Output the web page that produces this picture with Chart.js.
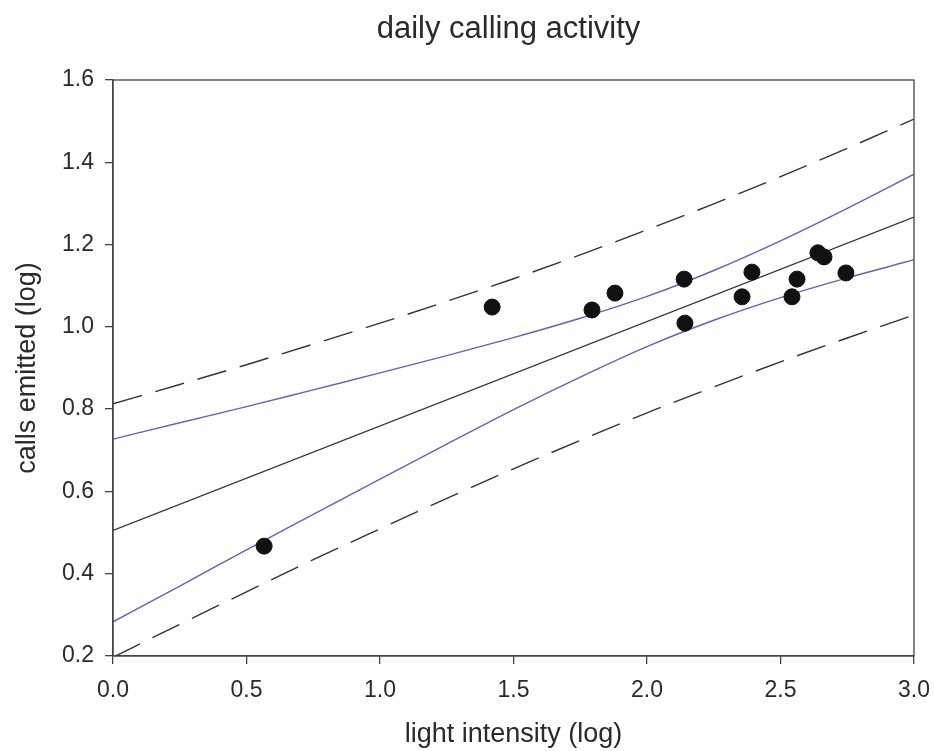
<!DOCTYPE html>
<html>
<head>
<meta charset="utf-8">
<script src="https://cdn.jsdelivr.net/npm/chart.js@4"></script>
<style>
html,body{margin:0;padding:0;background:#fff;}
#wrap{width:934px;height:751px;position:relative;}
</style>
</head>
<body>
<div id="wrap"><canvas id="c" width="934" height="751"></canvas></div>
<script>
// observed points
const pointX = [0.566, 1.42, 1.794, 1.88, 2.139, 2.142, 2.356, 2.393, 2.543, 2.562, 2.64, 2.663, 2.745];
const pointY = [0.467, 1.048, 1.041, 1.082, 1.116, 1.009, 1.073, 1.133, 1.073, 1.116, 1.180, 1.170, 1.131];
// regression line
const fitX = [0, 3];
const fitY = [0.505, 1.267];
// confidence / prediction bands
const bandX   = [0, 0.25, 0.5, 0.75, 1.0, 1.25, 1.5, 1.75, 2.0, 2.25, 2.5, 2.75, 3.0];
const ciUpper = [0.727, 0.767, 0.806, 0.847, 0.888, 0.930, 0.974, 1.021, 1.074, 1.137, 1.209, 1.288, 1.371];
const ciLower = [0.283, 0.370, 0.458, 0.544, 0.630, 0.715, 0.799, 0.878, 0.952, 1.016, 1.071, 1.119, 1.163];
const piUpper = [0.813, 0.860, 0.908, 0.958, 1.009, 1.062, 1.117, 1.175, 1.236, 1.299, 1.365, 1.434, 1.505];
const piLower = [0.197, 0.277, 0.356, 0.434, 0.509, 0.583, 0.655, 0.724, 0.791, 0.854, 0.915, 0.973, 1.029];
const xTicks = [0, 0.5, 1.0, 1.5, 2.0, 2.5, 3.0];
const yTicks = [0.2, 0.4, 0.6, 0.8, 1.0, 1.2, 1.4, 1.6];
const chartTitle = 'daily calling activity';

const zip = (xs, ys) => xs.map((x, i) => ({x: x, y: ys[i]}));
const FONT = "'Liberation Sans', Arial, sans-serif";
const TXT = '#2a2a2a';
const PURPLE = '#6a5fb4';

const frame = {
  id: 'frame',
  afterDatasetsDraw(chart) {
    const a = chart.chartArea, ctx = chart.ctx;
    ctx.save();
    ctx.strokeStyle = '#444';
    ctx.lineWidth = 1.3;
    ctx.strokeRect(a.left, a.top, a.right - a.left, a.bottom - a.top);
    ctx.fillStyle = TXT;
    ctx.font = '31px ' + FONT;
    ctx.textAlign = 'center';
    ctx.textBaseline = 'middle';
    ctx.fillText(chartTitle, (a.left + a.right) / 2 - 5, 29);
    ctx.restore();
  }
};

const lineDs = (label, xs, ys, color, dash, width) => ({
  type: 'line', label: label, data: zip(xs, ys),
  borderColor: color, borderWidth: width, borderDash: dash,
  pointRadius: 0, fill: false, tension: 0.4, cubicInterpolationMode: 'monotone',
  showLine: true, order: 2
});

new Chart(document.getElementById('c'), {
  type: 'scatter',
  data: {
    datasets: [
      lineDs('prediction upper', bandX, piUpper, '#333', [30, 14], 1.4),
      lineDs('prediction lower', bandX, piLower, '#333', [30, 14], 1.4),
      lineDs('confidence upper', bandX, ciUpper, PURPLE, [], 1.4),
      lineDs('confidence lower', bandX, ciLower, PURPLE, [], 1.4),
      lineDs('regression', fitX, fitY, '#333', [], 1.3),
      {
        type: 'scatter', label: 'calls', data: zip(pointX, pointY),
        backgroundColor: '#111', borderColor: '#111', pointRadius: 8, order: 1
      }
    ]
  },
  plugins: [frame],
  options: {
    responsive: false,
    animation: false,
    layout: {padding: {left: 0, right: 20, top: 80, bottom: 0}},
    plugins: {
      legend: {display: false},
      tooltip: {enabled: false},
      title: {display: false}
    },
    scales: {
      x: {
        type: 'linear', min: 0, max: 3,
        afterFit: s => { s.height = 95; s.paddingLeft = 0; s.paddingRight = 0; },
        afterBuildTicks: s => { s.ticks = xTicks.map(v => ({value: v})); },
        ticks: {color: TXT, font: {family: FONT, size: 23}, padding: 13,
                callback: v => Number(v).toFixed(1), maxRotation: 0},
        grid: {display: true, drawOnChartArea: false, drawTicks: true, tickLength: 8, color: '#444', lineWidth: 1.3},
        border: {display: true, color: '#444', width: 1.3},
        title: {display: true, text: 'light intensity (log)', color: TXT,
                font: {family: FONT, size: 27}, padding: {top: 3, bottom: 0}}
      },
      y: {
        type: 'linear', min: 0.2, max: 1.6,
        afterFit: s => { s.width = 113; s.paddingTop = 0; s.paddingBottom = 0; },
        afterBuildTicks: s => { s.ticks = yTicks.map(v => ({value: v})); },
        ticks: {color: TXT, font: {family: FONT, size: 23}, padding: 11,
                callback: v => Number(v).toFixed(1)},
        grid: {display: true, drawOnChartArea: false, drawTicks: true, tickLength: 8, color: '#444', lineWidth: 1.3},
        border: {display: true, color: '#444', width: 1.3},
        title: {display: true, text: 'calls emitted (log)', color: TXT,
                font: {family: FONT, size: 27}, padding: {top: 11, bottom: 0}}
      }
    }
  }
});
</script>
</body>
</html>
